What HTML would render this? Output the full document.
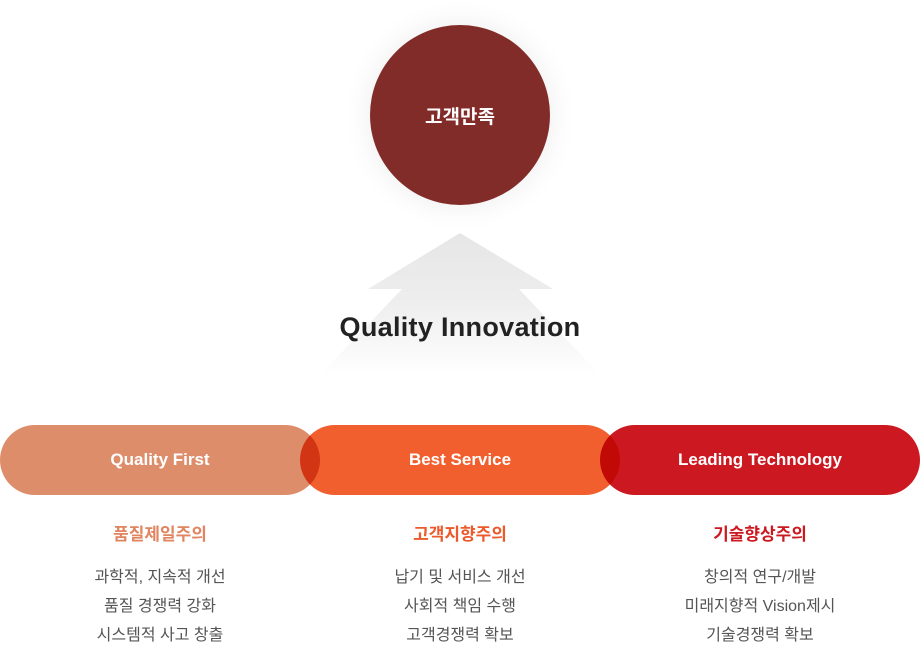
<!DOCTYPE html>
<html><head><meta charset="utf-8"><style>
body{margin:0;width:920px;height:643px;background:#fff;position:relative;overflow:hidden;font-family:"Liberation Sans","Noto Sans CJK KR",sans-serif}
.c{position:absolute;left:370px;top:25px;width:180px;height:180px;border-radius:50%;background:#822c29;box-shadow:0 0 30px rgba(0,0,0,0.08);color:#fff;font-weight:bold;font-size:19px;display:flex;align-items:center;justify-content:center}
.qi{position:absolute;left:0;width:920px;top:312px;text-align:center;font-weight:bold;font-size:27px;color:#222;letter-spacing:0.3px}
.p{position:absolute;top:425px;width:320px;height:70px;border-radius:35px;color:#fff;font-weight:bold;font-size:17px;display:flex;align-items:center;justify-content:center;mix-blend-mode:multiply}
.col{position:absolute;top:520px;width:320px;text-align:center}
.h{font-weight:bold;font-size:17px;margin-bottom:18px}
.l{font-size:16px;color:#555;line-height:29px}
</style></head><body>
<svg width="920" height="643" style="position:absolute;left:0;top:0">
<defs><linearGradient id="g" x1="0" y1="233" x2="0" y2="375" gradientUnits="userSpaceOnUse"><stop offset="0" stop-color="#e6e6e6"/><stop offset="0.5" stop-color="#eeeeee"/><stop offset="1" stop-color="#fff"/></linearGradient></defs>
<polygon points="460,233 553,289 519,289 600,375 320,375 402,289 368,289" fill="url(#g)"/>
</svg>
<div class="c">고객만족</div>
<div class="qi">Quality Innovation</div>
<div class="p" style="left:0;background:#dd8d6a">Quality First</div>
<div class="p" style="left:300px;background:#f15f2e">Best Service</div>
<div class="p" style="left:600px;background:#cc1820">Leading Technology</div>
<div class="col" style="left:0"><div class="h" style="color:#e08560">품질제일주의</div><div class="l">과학적, 지속적 개선<br>품질 경쟁력 강화<br>시스템적 사고 창출</div></div>
<div class="col" style="left:300px"><div class="h" style="color:#ec5a2c">고객지향주의</div><div class="l">납기 및 서비스 개선<br>사회적 책임 수행<br>고객경쟁력 확보</div></div>
<div class="col" style="left:600px"><div class="h" style="color:#cc1820">기술향상주의</div><div class="l">창의적 연구/개발<br>미래지향적 Vision제시<br>기술경쟁력 확보</div></div>
</body></html>
